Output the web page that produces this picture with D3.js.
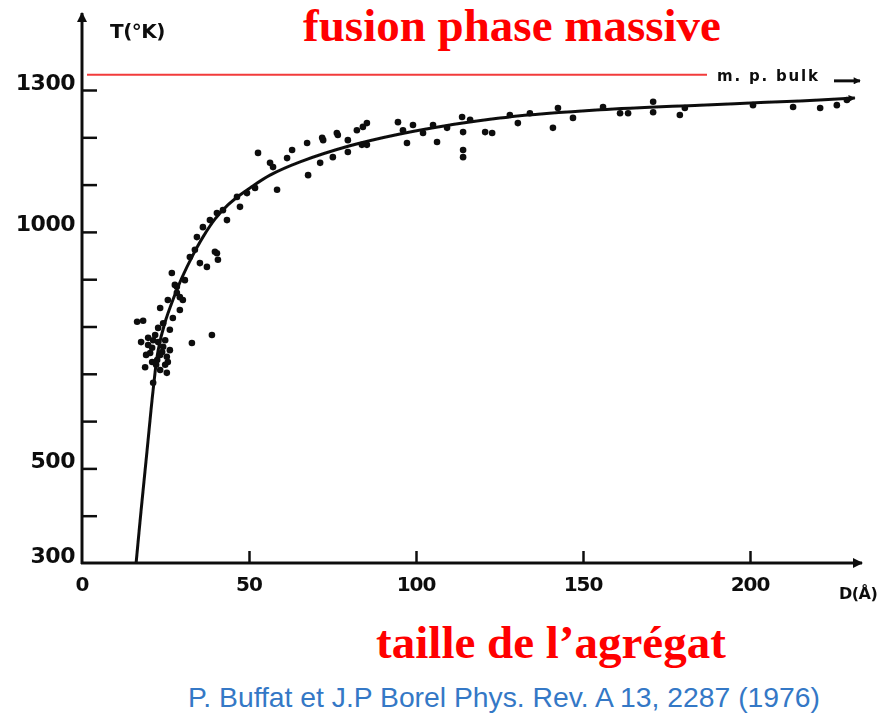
<!DOCTYPE html>
<html>
<head>
<meta charset="utf-8">
<script src="https://cdn.jsdelivr.net/npm/d3@7/dist/d3.min.js"></script>
<style>
  html, body { margin: 0; padding: 0; background: #fff; }
  svg { display: block; }
</style>
</head>
<body>
<svg id="chart" width="878" height="717"></svg>
<script>
// Melting temperature of gold clusters versus particle diameter
const titleTop = "fusion phase massive";
const titleBottom = "taille de l\u2019agr\u00e9gat";
const citation = "P. Buffat et J.P Borel Phys. Rev. A 13, 2287 (1976)";
const yAxisTitle = "T(\u00b0K)";
const xAxisTitle = "D(\u00c5)";
const bulkLabel = "m. p. bulk";

const bulkMeltingPoint = 1332;

const yTickValues = [300, 400, 500, 600, 700, 800, 900, 1000, 1100, 1200, 1300];
const yTickLabels = [300, 500, 1000, 1300];
const xTickValues = [50, 100, 150, 200];
const xTickLabels = [0, 50, 100, 150, 200];

// Measured points: diameter D (Å), temperature T (K)
const measD = [
  16.5, 18.3, 23.4, 28.4, 29.3, 24.3, 21.3, 24.3, 26.3, 20.4, 22.5, 25.4, 18.9, 32.9, 38.9, 25.4, 21.3, 23.4,
  19.8, 21.9, 23.4, 21.0, 24.9, 22.8, 26.3, 27.2, 25.7, 30.2, 27.8,
  19.8, 21.0, 22.8, 24.0, 22.2, 19.2, 24.9, 25.7, 17.7,
  26.9, 28.4, 29.3, 30.8, 32.3, 33.8, 35.3, 37.4, 40.4, 40.7, 34.4, 36.2, 38.3, 40.4, 42.2, 43.4, 39.8,
  46.4, 47.3, 49.4, 51.8, 52.7, 56.3, 57.2, 58.4, 61.4, 62.9, 67.4, 67.7, 71.3, 72.2, 75.1, 76.6,
  79.6, 79.6, 82.3, 85.3, 71.9, 76.3, 83.8, 84.1, 85.3, 94.6, 96.1, 97.3, 99.1, 102.1, 105.1, 106.3,
  109.3, 113.8, 114.1, 114.1, 114.1, 116.2, 120.7, 122.8, 128.1, 130.5, 134.1, 141.0, 142.5, 147.0,
  156.0, 161.1, 163.5, 171.0, 171.0, 179.0, 180.5, 200.9, 212.9, 221.0, 226.0, 229.0
];
const measT = [
  810, 812, 839, 871, 835, 807, 771, 757, 750, 744, 729, 736, 714, 765, 782, 702, 681, 708,
  761, 782, 740, 725, 719, 797, 793, 818, 856, 856, 888,
  776, 755, 767, 746, 719, 740, 771, 725, 767,
  913, 884, 862, 898, 947, 962, 934, 926, 955, 941, 989, 1010, 1025, 1040, 1046, 1025, 958,
  1074, 1053, 1082, 1093, 1167, 1146, 1137, 1089, 1156, 1173, 1188, 1120, 1146, 1194, 1158, 1205,
  1194, 1169, 1215, 1184, 1199, 1209, 1184, 1222, 1230, 1232, 1215, 1188, 1226, 1209, 1226, 1190,
  1220, 1243, 1211, 1173, 1158, 1237, 1211, 1209, 1247, 1230, 1251, 1220, 1262, 1241,
  1264, 1251, 1251, 1275, 1253, 1247, 1262, 1268, 1264, 1262, 1268, 1279
];

// Fitted curve through the measurements
const fitD = [16.2, 17.7, 19.5, 21.3, 22.8, 24.9, 27.2, 29.9, 33.2, 36.2, 39.8, 43.7, 47.3, 50.3, 56.3, 65.3, 80.2, 95.2, 110.2, 125.1, 155.1, 185.0, 215.0, 231.4];
const fitT = [300, 412, 539, 666, 750, 810, 856, 903, 951, 989, 1027, 1057, 1078, 1093, 1120, 1148, 1182, 1207, 1226, 1241, 1258, 1268, 1277, 1283];

const svg = d3.select("#chart");

const x = d3.scaleLinear().domain([0, 200]).range([82, 750]);
const y = d3.scaleLinear().domain([300, 1300]).range([563, 90]);

const ink = "#111";
const labelFont = "'DejaVu Sans', sans-serif";

const defs = svg.append("defs");
// Slight softness of the printed figure
defs.append("filter").attr("id", "soft")
  .append("feGaussianBlur").attr("stdDeviation", 0.5);
// Arrowheads
defs.append("marker")
  .attr("id", "arrow")
  .attr("viewBox", "0 0 10 10")
  .attr("refX", 9).attr("refY", 5)
  .attr("markerWidth", 8).attr("markerHeight", 7)
  .attr("markerUnits", "userSpaceOnUse")
  .attr("orient", "auto")
  .append("path").attr("d", "M0,0 L10,5 L0,10 Z").attr("fill", ink);
defs.append("marker")
  .attr("id", "arrowBig")
  .attr("viewBox", "0 0 10 10")
  .attr("refX", 9).attr("refY", 5)
  .attr("markerWidth", 20).attr("markerHeight", 10)
  .attr("markerUnits", "userSpaceOnUse")
  .attr("orient", "auto")
  .append("path").attr("d", "M0,0 L10,5 L0,10 Z").attr("fill", ink);

const plot = svg.append("g").attr("filter", "url(#soft)");

// Axis lines
plot.append("line")
  .attr("x1", x(0)).attr("y1", y(300) + 1)
  .attr("x2", x(0)).attr("y2", 13)
  .attr("stroke", ink).attr("stroke-width", 3)
  .attr("marker-end", "url(#arrowBig)");
plot.append("line")
  .attr("x1", x(0) - 1).attr("y1", y(300))
  .attr("x2", 862).attr("y2", y(300))
  .attr("stroke", ink).attr("stroke-width", 3)
  .attr("marker-end", "url(#arrowBig)");

// Y ticks pointing into the plot
const yAxis = plot.append("g")
  .attr("transform", `translate(${x(0)},0)`)
  .call(d3.axisRight(y).tickValues(yTickValues.filter(v => v > 300)).tickSize(15).tickFormat(""));
yAxis.select(".domain").remove();
yAxis.selectAll(".tick line").attr("stroke", ink).attr("stroke-width", 2.5);

// X ticks pointing up
const xAxis = plot.append("g")
  .attr("transform", `translate(0,${y(300)})`)
  .call(d3.axisTop(x).tickValues(xTickValues).tickSize(12).tickFormat(""));
xAxis.select(".domain").remove();
xAxis.selectAll(".tick line").attr("stroke", ink).attr("stroke-width", 2.5);

// Tick labels
plot.selectAll(".ylab").data(yTickLabels).enter().append("text")
  .attr("class", "ylab")
  .attr("x", 75).attr("y", d => y(d) - 8)
  .attr("text-anchor", "end").attr("dominant-baseline", "central")
  .attr("font-family", labelFont).attr("font-weight", "bold").attr("font-size", 22)
  .attr("letter-spacing", -0.5)
  .attr("fill", ink)
  .text(d => d);
plot.selectAll(".xlab").data(xTickLabels).enter().append("text")
  .attr("class", "xlab")
  .attr("x", d => x(d)).attr("y", 584)
  .attr("text-anchor", "middle").attr("dominant-baseline", "central")
  .attr("font-family", labelFont).attr("font-weight", "bold").attr("font-size", 20)
  .attr("letter-spacing", -1)
  .attr("fill", ink)
  .text(d => d);

// Axis titles
plot.append("text")
  .attr("x", 110).attr("y", 31)
  .attr("dominant-baseline", "central")
  .attr("font-family", labelFont).attr("font-weight", "bold").attr("font-size", 20)
  .attr("letter-spacing", -0.5)
  .attr("fill", ink).text(yAxisTitle);
plot.append("text")
  .attr("x", 839).attr("y", 593)
  .attr("dominant-baseline", "central")
  .attr("font-family", labelFont).attr("font-weight", "bold").attr("font-size", 16)
  .attr("letter-spacing", -0.5)
  .attr("fill", ink).text(xAxisTitle);

// Bulk melting point line
svg.append("line")
  .attr("x1", x(0) + 5).attr("x2", 707)
  .attr("y1", y(bulkMeltingPoint)).attr("y2", y(bulkMeltingPoint))
  .attr("stroke", "#f23b3b").attr("stroke-width", 2);
plot.append("text")
  .attr("x", 717).attr("y", y(bulkMeltingPoint) + 1)
  .attr("dominant-baseline", "central")
  .attr("font-family", labelFont).attr("font-weight", "bold").attr("font-size", 15)
  .attr("letter-spacing", 1.8)
  .attr("fill", ink).text(bulkLabel);
plot.append("line")
  .attr("x1", 834).attr("x2", 860)
  .attr("y1", y(bulkMeltingPoint) + 6).attr("y2", y(bulkMeltingPoint) + 6)
  .attr("stroke", ink).attr("stroke-width", 3)
  .attr("marker-end", "url(#arrow)");

// Fitted curve
const fitData = fitD.map((d, i) => ({ d, t: fitT[i] }));
const line = d3.line().x(p => x(p.d)).y(p => y(p.t)).curve(d3.curveCatmullRom.alpha(0.5));
plot.append("path")
  .datum(fitData)
  .attr("d", line)
  .attr("fill", "none")
  .attr("stroke", ink).attr("stroke-width", 3)
  .attr("marker-end", "url(#arrow)");

// Measured points
const measData = measD.map((d, i) => ({ d, t: measT[i] }));
plot.selectAll(".pt").data(measData).enter().append("circle")
  .attr("class", "pt")
  .attr("cx", p => x(p.d)).attr("cy", p => y(p.t))
  .attr("r", 3.3).attr("fill", ink);

// Headings
svg.append("text")
  .attr("x", 512).attr("y", 41)
  .attr("text-anchor", "middle")
  .attr("font-family", "'Liberation Serif', 'Times New Roman', serif")
  .attr("font-weight", "bold").attr("font-size", 47)
  .attr("fill", "#ff0000").text(titleTop);
svg.append("text")
  .attr("x", 551).attr("y", 658)
  .attr("text-anchor", "middle")
  .attr("font-family", "'Liberation Serif', 'Times New Roman', serif")
  .attr("font-weight", "bold").attr("font-size", 47)
  .attr("fill", "#ff0000").text(titleBottom);
svg.append("text")
  .attr("x", 504).attr("y", 707)
  .attr("text-anchor", "middle")
  .attr("font-family", "'Liberation Sans', Arial, sans-serif")
  .attr("font-size", 28.3)
  .attr("fill", "#3478c6").text(citation);
</script>
</body>
</html>
